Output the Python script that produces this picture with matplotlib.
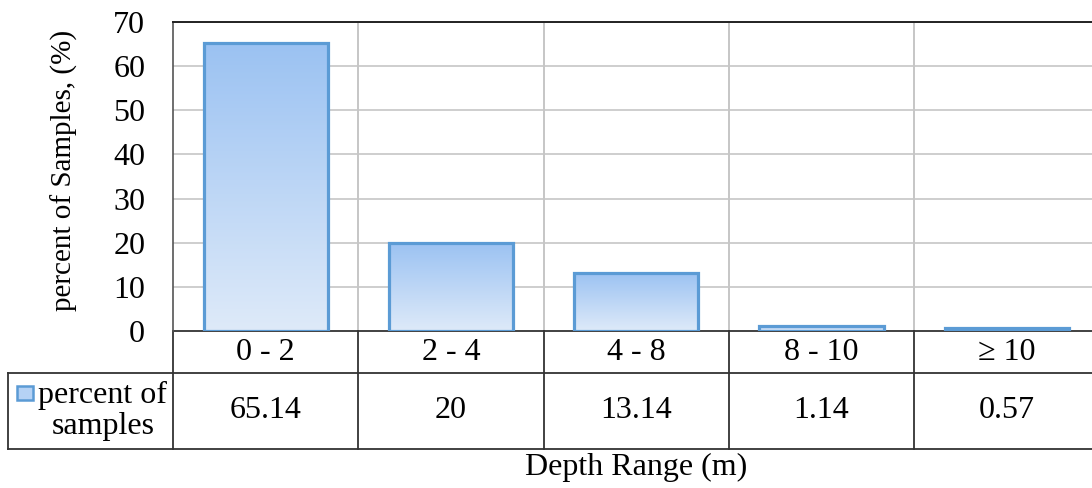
import numpy as np
import matplotlib.pyplot as plt
from matplotlib.colors import LinearSegmentedColormap
from matplotlib.patches import Rectangle
from matplotlib.transforms import blended_transform_factory

categories = ['0 - 2', '2 - 4', '4 - 8', '8 - 10', '\u2265 10']
percent = [65.14, 20, 13.14, 1.14, 0.57]
value_labels = ['65.14', '20', '13.14', '1.14', '0.57']
series_name = 'percent of\nsamples'

plt.rcParams['font.family'] = ['Liberation Serif', 'DejaVu Serif']
FS = 23

W, H = 1092, 488
fig = plt.figure(figsize=(W / 100, H / 100), dpi=100)

# plot area runs off the right edge, like the reference crop
x0, x1, ytop, ybot = 173, 1099.5, 22, 331
ax = fig.add_axes([x0 / W, (H - ybot) / H, (x1 - x0) / W, (ybot - ytop) / H])

n = len(categories)
ax.set_yticks(np.arange(0, 71, 10))
ax.tick_params(axis='y', length=0, labelsize=FS, pad=20)
ax.set_xticks([])
ax.set_ylabel('percent of Samples, (%)', fontsize=21)
ax.yaxis.set_label_coords(-(x0 - 78) / (x1 - x0), 0.52)

grid_c = '#c6c6c6'
for v in range(10, 71, 10):
    ax.axhline(v, color=grid_c, lw=1.2, zorder=0)
for i in range(1, n):
    ax.axvline(i - 0.5, color=grid_c, lw=1.4, zorder=0)

for s in ['right', 'bottom']:
    ax.spines[s].set_visible(False)
ax.spines['left'].set_color('#555555')
ax.spines['left'].set_linewidth(1.2)
ax.spines['top'].set_color('#222222')
ax.spines['top'].set_linewidth(1.4)

cmap = LinearSegmentedColormap.from_list('bar', ['#deeaf9', '#9bc2f2'])
grad = np.linspace(0, 1, 256).reshape(-1, 1)
bars = ax.bar(range(n), percent, width=0.67, facecolor='none',
              edgecolor='#5b9bd5', linewidth=2.3, zorder=3)
for b in bars:
    bx, bw, bh = b.get_x(), b.get_width(), b.get_height()
    im = ax.imshow(grad, cmap=cmap, origin='lower', aspect='auto',
                   extent=[bx, bx + bw, 0, bh], zorder=2)
    im.set_clip_path(b)
ax.set_xlim(-0.5, n - 0.5)
ax.set_ylim(0, 70)

# data table below the plot
tr = blended_transform_factory(ax.transData, ax.transAxes)
hpx = ybot - ytop
cw = (x1 - x0) / n
r1 = -(373 - ybot) / hpx
r2 = -(449 - ybot) / hpx
xl = -0.5 - (x0 - 8) / cw
line_c = '#333333'
kw = dict(transform=tr, clip_on=False, color=line_c, lw=1.3)
ax.plot([-0.5, n], [0, 0], **kw)
ax.plot([xl, n], [r1, r1], **kw)
ax.plot([xl, n], [r2, r2], **kw)
ax.plot([xl, xl], [r1, r2], **kw)
for i in range(n):
    ax.plot([i - 0.5, i - 0.5], [0, r2], **kw)
for i, (c, v) in enumerate(zip(categories, value_labels)):
    ax.text(i, r1 / 2, c, transform=tr, ha='center', va='center', fontsize=FS)
    ax.text(i, (r1 + r2) / 2, v, transform=tr, ha='center', va='center', fontsize=FS)

ax.text(-0.5 - (x0 - 103) / cw, (r1 + r2) / 2, series_name, transform=tr,
        ha='center', va='center', fontsize=FS, linespacing=1.05)
kx = -0.5 - (x0 - 17) / cw
key = Rectangle((kx, -(400 - ybot) / hpx), 16 / cw, 14 / hpx, transform=tr,
                clip_on=False, facecolor='#b5d2f5', edgecolor='#5b9bd5', lw=1.8)
ax.add_patch(key)

fig.text((527 + 745) / 2 / W, (H - 467) / H, 'Depth Range (m)', ha='center',
         va='center', fontsize=FS)

fig.savefig('out.png', dpi=100)
